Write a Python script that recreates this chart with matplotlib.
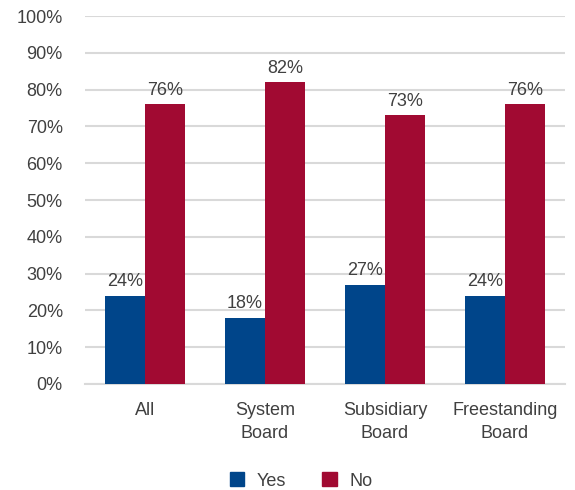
import matplotlib
matplotlib.use("Agg")
import matplotlib.pyplot as plt
import numpy as np
from matplotlib.patches import Patch

categories = ["All", "System\nBoard", "Subsidiary\nBoard", "Freestanding\nBoard"]
yes_values = [24, 18, 27, 24]
no_values = [76, 82, 73, 76]
yticks = list(range(0, 101, 10))

blue = "#00458a"
red = "#a10a32"
text_color = "#404040"
grid_color = "#d9d9d9"

plt.rcParams["font.family"] = ["Liberation Sans", "DejaVu Sans"]

fig = plt.figure(figsize=(5.75, 4.9), dpi=100)
ax = fig.add_axes([85 / 575, 1 - 384 / 490, 480 / 575, 368 / 490])

x = np.arange(len(categories))
w = 1 / 3
b1 = ax.bar(x - w / 2, yes_values, width=w, color=blue, zorder=3)
b2 = ax.bar(x + w / 2, no_values, width=w, color=red, zorder=3)

for bars, vals in ((b1, yes_values), (b2, no_values)):
    for rect, v in zip(bars, vals):
        ax.annotate(f"{v}%", (rect.get_x() + rect.get_width() / 2, v),
                    xytext=(0, 4), textcoords="offset points",
                    ha="center", va="bottom", fontsize=13, color=text_color)

ax.set_xlim(-0.5, len(categories) - 0.5)
ax.set_ylim(0, 100)
ax.set_yticks(yticks)
ax.set_yticklabels([f"{t}%" for t in yticks])
ax.set_xticks(x)
ax.set_xticklabels(categories, linespacing=1.45)
ax.tick_params(axis="both", length=0, labelsize=13, colors=text_color)
ax.tick_params(axis="y", pad=16)
ax.tick_params(axis="x", pad=13)
ax.yaxis.grid(True, color=grid_color, linewidth=1.5, zorder=0)
for s in ("top", "right", "left"):
    ax.spines[s].set_visible(False)
ax.spines["bottom"].set_color(grid_color)
ax.spines["bottom"].set_linewidth(1.5)

handles = [Patch(color=blue, label="Yes"), Patch(color=red, label="No")]
fig.legend(handles=handles, loc="center", bbox_to_anchor=(301 / 575, 1 - 481 / 490),
           ncol=2, frameon=False, fontsize=13, labelcolor=text_color,
           handlelength=0.8, handleheight=0.8, columnspacing=2.0, handletextpad=0.7)

fig.savefig("out.png", dpi=100)
